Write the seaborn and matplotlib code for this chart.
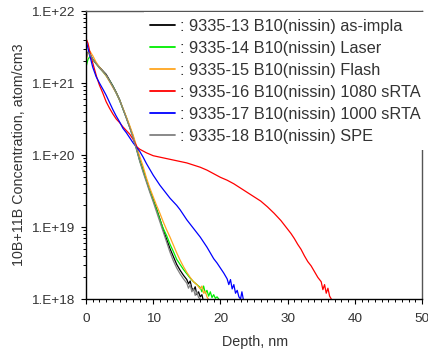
import numpy as np
import pandas as pd
import matplotlib
matplotlib.use("Agg")
import matplotlib.pyplot as plt
import seaborn as sns
from matplotlib.ticker import LogLocator, MultipleLocator, FixedFormatter, FixedLocator, NullFormatter

# ---------------- data (depth in nm, concentration as log10(atom/cm3)) ----------------
labels = [": 9335-13 B10(nissin) as-impla",
          ": 9335-14 B10(nissin) Laser",
          ": 9335-15 B10(nissin) Flash",
          ": 9335-16 B10(nissin) 1080 sRTA",
          ": 9335-17 B10(nissin) 1000 sRTA",
          ": 9335-18 B10(nissin) SPE"]
colors = ["#000000", "#00ee00", "#ffa620", "#ff0000", "#0000ff", "#808080"]

d13 = [0, 0.3, 0.6, 1, 1.5, 2, 2.5, 3, 3.5, 4, 4.5, 5, 5.5, 6, 6.5, 7, 7.5, 8, 8.5, 9, 9.5,
       10, 10.5, 11, 11.5, 12, 12.5, 13, 13.5, 14, 14.5, 15, 15.25, 15.5, 15.75, 16, 16.25,
       16.5, 16.75, 17, 17.25, 17.4]
c13 = [21.36, 21.43, 21.40, 21.33, 21.27, 21.22, 21.17, 21.12, 21.04, 20.96, 20.87, 20.77,
       20.64, 20.52, 20.39, 20.26, 20.10, 19.93, 19.79, 19.65, 19.51, 19.38, 19.25, 19.11,
       18.96, 18.83, 18.70, 18.59, 18.48, 18.40, 18.33, 18.27, 18.21, 18.25, 18.15, 18.12,
       18.17, 18.06, 18.10, 18.03, 18.06, 18.00]

d14 = [0, 0.3, 0.6, 1, 1.5, 2, 2.5, 3, 3.5, 4, 4.5, 5, 5.5, 6, 6.5, 7, 7.5, 8, 8.5, 9, 9.5,
       10, 10.5, 11, 11.5, 12, 12.5, 13, 13.5, 14, 14.5, 15, 15.5, 16, 16.5, 17, 17.25, 17.5,
       17.75, 18, 18.25, 18.5, 18.75, 19, 19.25, 19.5, 19.75]
c14 = [21.22, 21.33, 21.37, 21.33, 21.27, 21.21, 21.16, 21.10, 21.03, 20.95, 20.86, 20.76,
       20.64, 20.52, 20.39, 20.25, 20.09, 19.92, 19.78, 19.64, 19.50, 19.37, 19.24, 19.10,
       18.98, 18.88, 18.76, 18.66, 18.55, 18.48, 18.41, 18.35, 18.29, 18.24, 18.20, 18.16,
       18.10, 18.18, 18.08, 18.12, 18.04, 18.10, 18.02, 18.06, 18.01, 18.03, 18.00]

d15 = [0, 0.3, 0.6, 1, 1.5, 2, 2.5, 3, 3.5, 4, 4.5, 5, 5.5, 6, 6.5, 7, 7.5, 8, 8.5, 9, 9.5,
       10, 10.5, 11, 11.5, 12, 12.5, 13, 13.5, 14, 14.5, 15, 15.5, 16, 16.5, 17, 17.25, 17.5,
       17.75, 18, 18.2]
c15 = [21.30, 21.42, 21.44, 21.38, 21.29, 21.22, 21.16, 21.10, 21.02, 20.94, 20.86, 20.76,
       20.65, 20.53, 20.41, 20.28, 20.13, 19.98, 19.84, 19.68, 19.54, 19.42, 19.30, 19.19,
       19.07, 18.96, 18.86, 18.75, 18.64, 18.54, 18.45, 18.37, 18.30, 18.24, 18.20, 18.14,
       18.18, 18.08, 18.11, 18.03, 18.00]

d16 = [0, 0.3, 0.6, 1, 1.6, 2, 2.5, 3, 3.5, 4, 4.5, 5, 5.5, 6, 6.5, 7, 7.6, 8, 9, 10, 11, 12,
       13, 14, 15, 16, 17, 18, 19, 20, 21, 22, 23, 24, 25, 26, 27, 28, 29, 30, 30.5, 31, 31.5,
       32, 32.5, 33, 33.5, 34, 34.5, 35, 35.25, 35.5, 35.75, 36, 36.25, 36.5]
c16 = [21.62, 21.55, 21.42, 21.28, 21.08, 20.97, 20.86, 20.74, 20.65, 20.57, 20.50, 20.45,
       20.39, 20.34, 20.29, 20.22, 20.11, 20.08, 20.03, 19.99, 19.97, 19.95, 19.93, 19.91,
       19.89, 19.86, 19.83, 19.79, 19.74, 19.69, 19.65, 19.60, 19.54, 19.48, 19.42, 19.36,
       19.28, 19.19, 19.09, 18.97, 18.91, 18.84, 18.76, 18.69, 18.60, 18.52, 18.46, 18.38,
       18.30, 18.24, 18.13, 18.20, 18.08, 18.15, 18.04, 18.00]

d17 = [0, 0.3, 0.6, 1, 1.5, 2, 2.6, 3, 3.5, 4, 4.5, 5, 5.5, 6, 6.5, 7, 7.5, 8, 8.5, 9, 9.5,
       10, 10.5, 11, 11.5, 12, 12.5, 13, 13.5, 14, 14.5, 15, 15.5, 16, 16.5, 17, 17.5, 18,
       18.5, 19, 19.5, 20, 20.5, 21, 21.25, 21.5, 21.75, 22, 22.25, 22.5, 22.75, 23, 23.2, 23.4]
c17 = [21.60, 21.48, 21.37, 21.22, 21.09, 21.00, 20.90, 20.83, 20.73, 20.63, 20.54, 20.46,
       20.37, 20.31, 20.24, 20.17, 20.11, 20.05, 19.97, 19.88, 19.80, 19.72, 19.65, 19.58,
       19.52, 19.46, 19.40, 19.35, 19.30, 19.24, 19.17, 19.10, 19.04, 18.98, 18.92, 18.86,
       18.79, 18.72, 18.64, 18.56, 18.50, 18.43, 18.36, 18.28, 18.20, 18.27, 18.14, 18.20,
       18.08, 18.12, 18.03, 18.00, 18.10, 18.00]

d18 = [0, 0.3, 0.6, 1, 1.5, 2, 2.5, 3, 3.5, 4, 4.5, 5, 5.5, 6, 6.5, 7, 7.5, 8, 8.5, 9, 9.5,
       10, 10.5, 11, 11.5, 12, 12.5, 13, 13.5, 14, 14.5, 15, 15.25, 15.5, 15.75, 16, 16.25,
       16.5, 16.75, 17]
c18 = [21.34, 21.42, 21.40, 21.33, 21.27, 21.21, 21.16, 21.11, 21.03, 20.95, 20.86, 20.76,
       20.64, 20.51, 20.38, 20.24, 20.08, 19.91, 19.76, 19.62, 19.48, 19.35, 19.21, 19.07,
       18.93, 18.79, 18.65, 18.53, 18.43, 18.35, 18.28, 18.22, 18.15, 18.20, 18.10, 18.14,
       18.05, 18.10, 18.02, 18.00]

depths = [d13, d14, d15, d16, d17, d18]
conc_log10 = [c13, c14, c15, c16, c17, c18]

ytick_vals = [1e18, 1e19, 1e20, 1e21, 1e22]
ytick_labels = ["1.E+18", "1.E+19", "1.E+20", "1.E+21", "1.E+22"]
xtick_vals = [0, 10, 20, 30, 40, 50]

frames = []
for lab, d, c in zip(labels, depths, conc_log10):
    frames.append(pd.DataFrame({"Depth": d, "Conc": 10 ** np.array(c), "Sample": lab}))
df = pd.concat(frames, ignore_index=True)

# ---------------- figure ----------------
sns.set_style("white")
plt.rcParams["font.family"] = ["Liberation Sans", "DejaVu Sans"]
txt = "#333333"

fig = plt.figure(figsize=(4.28, 3.56), dpi=100)
W, H = 428, 356
ax = fig.add_axes([86 / W, 1 - 299 / H, 336 / W, 288 / H])

sns.lineplot(data=df, x="Depth", y="Conc", hue="Sample", hue_order=labels,
             palette=dict(zip(labels, colors)), sort=False, estimator=None,
             linewidth=0.9, ax=ax)

ax.set_yscale("log")
ax.set_xlim(0, 50)
ax.set_ylim(1e18, 1e22)

ax.yaxis.set_major_locator(FixedLocator(ytick_vals))
ax.yaxis.set_major_formatter(FixedFormatter(ytick_labels))
ax.yaxis.set_minor_locator(LogLocator(base=10, subs=np.arange(2, 10)))
ax.yaxis.set_minor_formatter(NullFormatter())
ax.xaxis.set_major_locator(FixedLocator(xtick_vals))
ax.xaxis.set_minor_locator(MultipleLocator(1))

ax.tick_params(axis="both", which="major", direction="out", length=3.5, width=0.8,
               color="black", labelsize=9.7, labelcolor=txt, left=True, bottom=True)
ax.tick_params(axis="both", which="minor", direction="out", length=2.2, width=0.7,
               color="black", left=True, bottom=True)
ax.tick_params(axis="y", which="major", pad=5)
ax.tick_params(axis="x", which="major", pad=6.5)

for s in ["left", "bottom"]:
    ax.spines[s].set_color("black")
    ax.spines[s].set_linewidth(1.0)
for s in ["top", "right"]:
    ax.spines[s].set_color("#555555")
    ax.spines[s].set_linewidth(1.0)

ax.set_xlabel("Depth, nm", fontsize=10.3, color=txt)
ax.set_ylabel("10B+11B Concentration, atom/cm3", fontsize=10.3, color=txt)
ax.xaxis.set_label_coords((255 - 86) / 336, (299 - 342) / 288)
ax.xaxis.label.set_verticalalignment("center")
ax.yaxis.set_label_coords((19 - 86) / 336, 0.5)
ax.yaxis.label.set_verticalalignment("center")

handles, labs = ax.get_legend_handles_labels()
leg = ax.legend(handles, labs, loc="upper left",
                bbox_to_anchor=((143.5 - 86) / 336, 1 - 1 / 288),
                fontsize=11.8, frameon=True, facecolor="white", edgecolor="none",
                framealpha=1.0, fancybox=False, borderpad=0.4, borderaxespad=0,
                labelspacing=0.43, handlelength=1.5, handletextpad=0.3)
for t in leg.get_texts():
    t.set_color(txt)
for h in leg.get_lines():
    h.set_linewidth(1.3)
leg.set_zorder(10)

fig.savefig("out.png", dpi=100)
